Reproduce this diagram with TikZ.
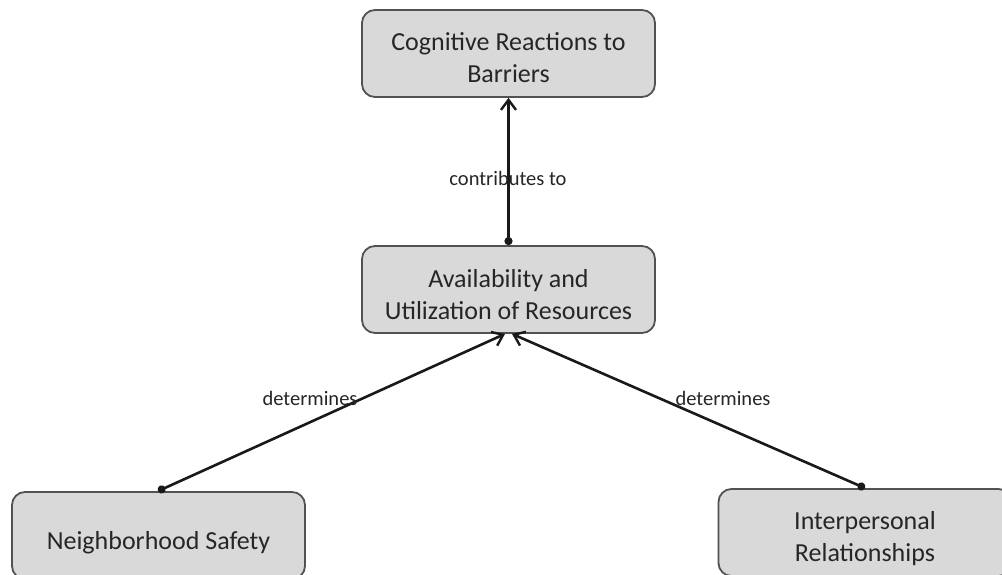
\documentclass[tikz,border=0pt]{standalone}
\usepackage{fontspec}
\setmainfont{Carlito}
\usetikzlibrary{arrows.meta}
% invisible strut that lowers the first line of a box's text
\newcommand{\firstlinegap}[1]{\rule{0pt}{#1}}
\begin{document}
\begin{tikzpicture}[x=1pt,y=-1pt,
  concept/.style={draw=black!68, line width=1.8pt, fill=black!15, rounded corners=13pt,
    minimum width=293pt, minimum height=87pt, align=center, inner sep=0pt,
    font=\fontsize{26}{32}\selectfont, text=black!85},
  link/.style={line width=2.6pt, draw=black!90, {Circle[length=8pt]}-{Straight Barb[length=10pt,width=15pt,line width=2.4pt]}},
  linklabel/.style={font=\fontsize{20.5}{24}\selectfont, text=black!85, inner sep=0pt}]
\useasboundingbox (0,0) rectangle (1002,575);
\clip (0,0) rectangle (1002,575);
\fill[white] (0,0) rectangle (1002,575);

\node[concept] (cog) at (508.5,53.5) {\firstlinegap{27pt}Cognitive Reactions to\\Barriers};
\node[concept] (avail) at (508.5,289.5) {\firstlinegap{28pt}Availability and\\Utilization of Resources};
\node[concept] (safety) at (158.5,535.5) {\firstlinegap{32pt}Neighborhood Safety};
\node[concept] (inter) at (865,532.5) {\firstlinegap{30pt}Interpersonal\\Relationships};

\coordinate (s1) at (avail.north);
\coordinate (s2) at ([xshift=-0.5pt]safety.north);
\coordinate (s3) at (inter.north);
\coordinate (tA) at ([xshift=-3.5pt]avail.south);
\coordinate (tB) at ([xshift=3.5pt]avail.south);

\draw[link] (s1) -- (cog.south);
\draw[link] (s2) -- (tA);
\draw[link] (s3) -- (tB);

\node[linklabel] (l1) at (508,178) {contributes to};
\node[linklabel] (l2) at (310,398) {determines};
\node[linklabel] (l3) at (723,398) {determines};
\end{tikzpicture}
\end{document}
